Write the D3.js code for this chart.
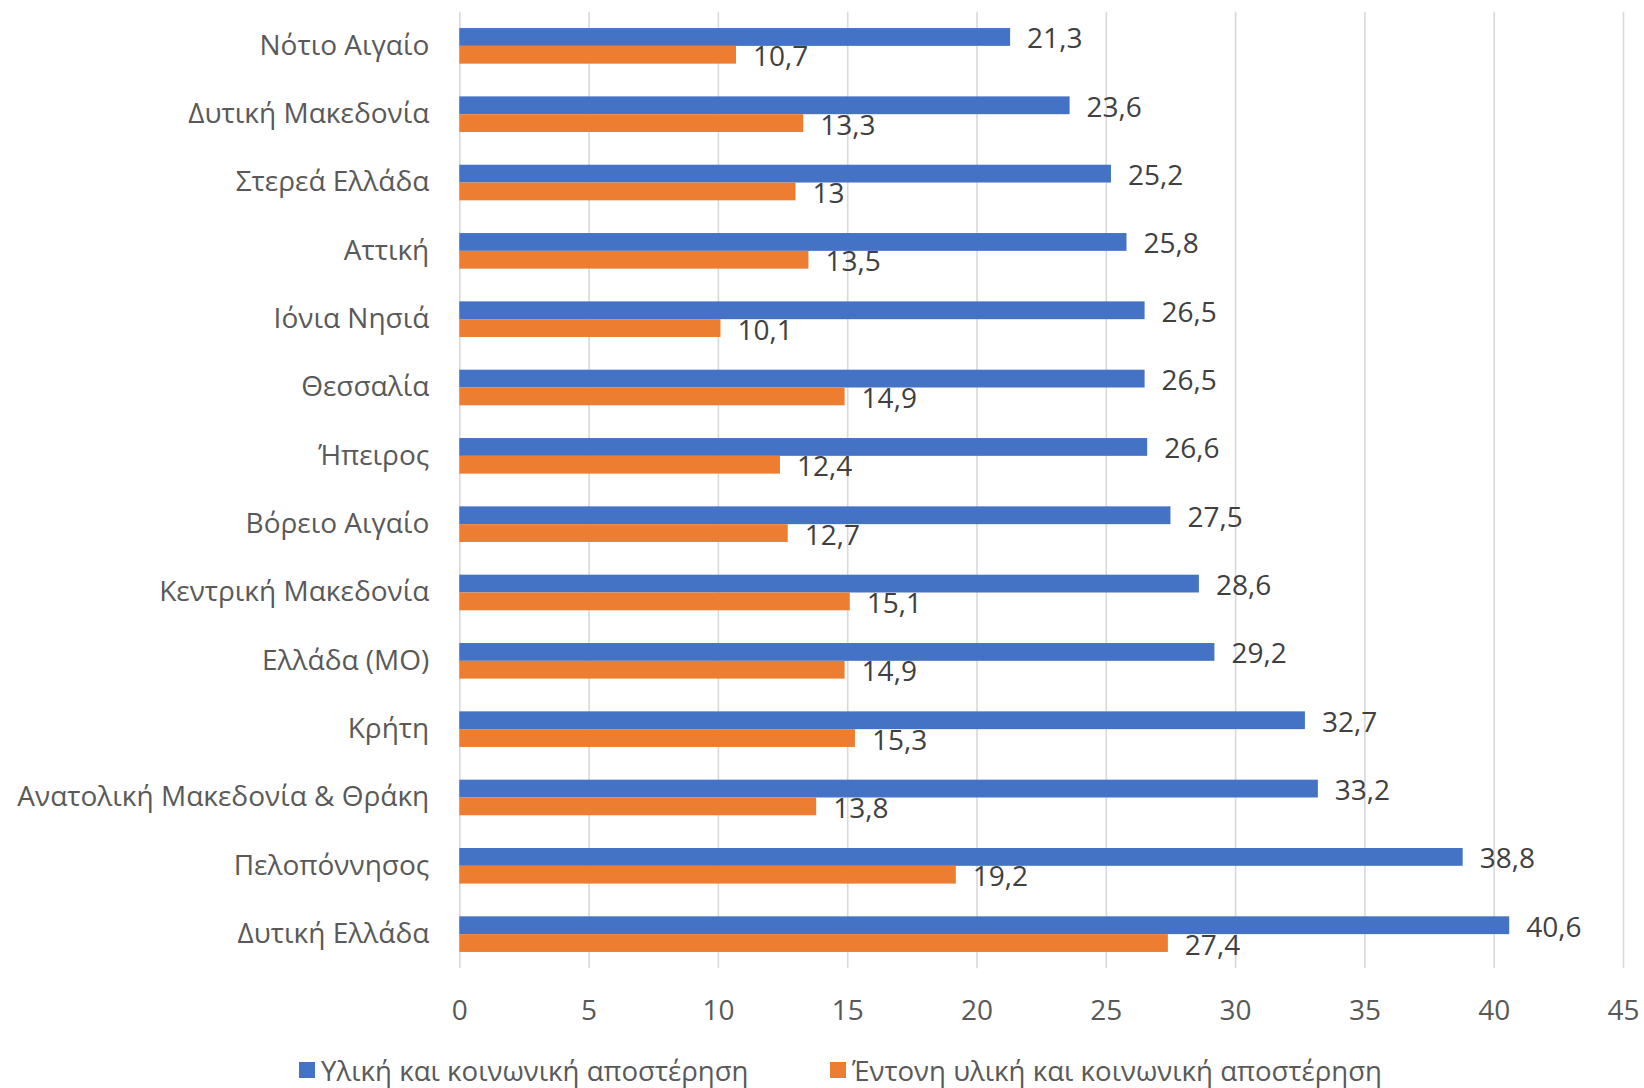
<!DOCTYPE html>
<html>
<head>
<meta charset="utf-8">
<script src="https://cdn.jsdelivr.net/npm/d3@7"></script>
<style>
  body { margin: 0; background: #fff; }
  svg text { font-family: "Open Sans", "Noto Sans", sans-serif; }
</style>
</head>
<body>
<div id="chart"></div>
<script>
// regions, top to bottom
var regions = ['Νότιο Αιγαίο', 'Δυτική Μακεδονία', 'Στερεά Ελλάδα', 'Αττική', 'Ιόνια Νησιά',
  'Θεσσαλία', 'Ήπειρος', 'Βόρειο Αιγαίο', 'Κεντρική Μακεδονία', 'Ελλάδα (ΜΟ)', 'Κρήτη',
  'Ανατολική Μακεδονία & Θράκη', 'Πελοπόννησος', 'Δυτική Ελλάδα'];
var deprivation = [21.3, 23.6, 25.2, 25.8, 26.5, 26.5, 26.6, 27.5, 28.6, 29.2, 32.7, 33.2, 38.8, 40.6];
var severe = [10.7, 13.3, 13, 13.5, 10.1, 14.9, 12.4, 12.7, 15.1, 14.9, 15.3, 13.8, 19.2, 27.4];
var seriesNames = ['Υλική και κοινωνική αποστέρηση', 'Έντονη υλική και κοινωνική αποστέρηση'];
var xTicks = [0, 5, 10, 15, 20, 25, 30, 35, 40, 45];

var colours = ['#4472C4', '#ED7D31'];
var W = 1644, H = 1088;
var plotLeft = 459.3, plotRight = 1623, plotTop = 11.7, plotBottom = 968.3;

var rows = regions.map(function(r, i) { return { name: r, vals: [deprivation[i], severe[i]] }; });

var svg = d3.select('#chart').append('svg').attr('width', W).attr('height', H);

var x = d3.scaleLinear().domain([0, 45]).range([plotLeft, plotRight]);
var y = d3.scaleBand().domain(regions).range([plotTop, plotBottom]).paddingInner(0.479).paddingOuter(0.2395);
var ys = d3.scaleBand().domain([0, 1]).range([0, y.bandwidth()]);

// gridlines + tick labels
var xAxis = svg.append('g')
  .attr('transform', 'translate(0,' + plotBottom + ')')
  .call(d3.axisBottom(x).tickValues(xTicks).tickSizeInner(-(plotBottom - plotTop)).tickSizeOuter(0).tickPadding(31.8));
xAxis.select('.domain').remove();
xAxis.selectAll('line').attr('stroke', '#D9D9D9').attr('stroke-width', 1.6);
xAxis.selectAll('text').attr('fill', '#595959').style('font-size', '28px');

// category labels
var yAxis = svg.append('g')
  .attr('transform', 'translate(' + plotLeft + ',0)')
  .call(d3.axisLeft(y).tickSize(0).tickPadding(30));
yAxis.select('.domain').remove();
yAxis.selectAll('text').attr('fill', '#595959').style('font-size', '28px');

var groups = svg.selectAll('g.row')
  .data(rows)
  .enter().append('g')
  .attr('class', 'row')
  .attr('transform', function(d) { return 'translate(0,' + y(d.name) + ')'; });

groups.selectAll('rect')
  .data(function(d) { return d.vals; })
  .enter().append('rect')
  .attr('x', x(0))
  .attr('y', function(d, j) { return ys(j); })
  .attr('width', function(d) { return x(d) - x(0); })
  .attr('height', ys.bandwidth())
  .attr('fill', function(d, j) { return colours[j]; });

groups.selectAll('text.val')
  .data(function(d) { return d.vals; })
  .enter().append('text')
  .attr('class', 'val')
  .attr('x', function(d) { return x(d) + 17; })
  .attr('y', function(d, j) { return ys(j) + ys.bandwidth() / 2 + 11.5; })
  .attr('fill', '#404040')
  .style('font-size', '28px')
  .text(function(d) { return String(d).replace('.', ','); });

// legend
var legendX = [299, 830];
var legend = svg.selectAll('g.legend')
  .data(seriesNames)
  .enter().append('g')
  .attr('class', 'legend')
  .attr('transform', function(d, i) { return 'translate(' + legendX[i] + ',1062)'; });
legend.append('rect').attr('width', 16).attr('height', 16)
  .attr('fill', function(d, i) { return colours[i]; });
legend.append('text').attr('x', 22).attr('y', 19)
  .attr('fill', '#595959').style('font-size', '27.6px')
  .text(function(d) { return d; });
</script>
</body>
</html>
